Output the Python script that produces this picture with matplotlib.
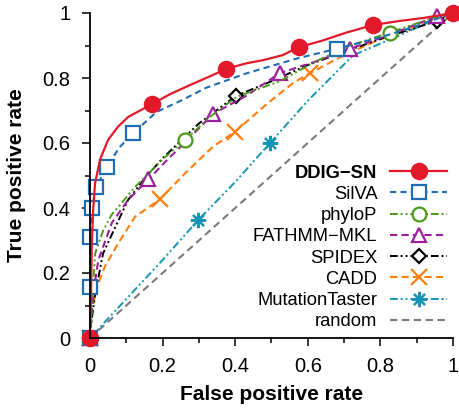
import matplotlib
matplotlib.use("Agg")
import matplotlib.pyplot as plt

plt.rcParams['font.family'] = ['Liberation Sans', 'DejaVu Sans']

# ROC curves: (false positive rate, true positive rate) and marker indices
ddig_fpr = [0, 0.003, 0.005, 0.009, 0.014, 0.028, 0.05, 0.077, 0.105, 0.171, 0.22, 0.275, 0.33, 0.375, 0.43, 0.477, 0.53, 0.576, 0.64, 0.707, 0.78, 0.85, 0.92, 1.0]
ddig_tpr = [0, 0.15, 0.29, 0.40, 0.477, 0.55, 0.61, 0.65, 0.68, 0.72, 0.75, 0.778, 0.805, 0.828, 0.845, 0.855, 0.87, 0.895, 0.915, 0.94, 0.963, 0.975, 0.985, 1.0]
ddig_marks = [0, 9, 13, 17, 20, 23]

silva_fpr = [0, 0.0, 0.0, 0.006, 0.017, 0.047, 0.08, 0.118, 0.184, 0.25, 0.32, 0.43, 0.57, 0.68, 0.8, 0.9, 1.0]
silva_tpr = [0, 0.157, 0.31, 0.40, 0.465, 0.526, 0.585, 0.63, 0.696, 0.73, 0.77, 0.814, 0.86, 0.89, 0.925, 0.96, 1.0]
silva_marks = [0, 1, 2, 3, 4, 5, 7, 13]

phylop_fpr = [0, 0.004, 0.009, 0.014, 0.036, 0.06, 0.087, 0.12, 0.156, 0.2, 0.262, 0.33, 0.404, 0.523, 0.62, 0.707, 0.826, 0.945, 1.0]
phylop_tpr = [0, 0.08, 0.17, 0.26, 0.33, 0.38, 0.415, 0.46, 0.50, 0.55, 0.609, 0.68, 0.742, 0.79, 0.85, 0.896, 0.94, 0.985, 1.0]
phylop_marks = [0, 10, 16]

fathmm_fpr = [0, 0.005, 0.012, 0.023, 0.06, 0.105, 0.161, 0.21, 0.26, 0.34, 0.43, 0.523, 0.62, 0.716, 0.83, 0.955, 1.0]
fathmm_tpr = [0, 0.08, 0.16, 0.24, 0.354, 0.425, 0.488, 0.545, 0.60, 0.69, 0.745, 0.815, 0.85, 0.89, 0.935, 0.99, 1.0]
fathmm_marks = [0, 6, 9, 11, 13, 15]

spidex_fpr = [0, 0.005, 0.015, 0.036, 0.069, 0.105, 0.15, 0.2, 0.3, 0.402, 0.5, 0.6, 0.7, 0.8, 0.955, 1.0]
spidex_tpr = [0, 0.06, 0.14, 0.26, 0.34, 0.425, 0.49, 0.553, 0.66, 0.745, 0.79, 0.84, 0.88, 0.92, 0.975, 1.0]
spidex_marks = [0, 9, 14]

cadd_fpr = [0, 0.005, 0.02, 0.041, 0.077, 0.124, 0.193, 0.262, 0.34, 0.40, 0.487, 0.56, 0.606, 0.7, 0.8, 0.9, 1.0]
cadd_tpr = [0, 0.086, 0.16, 0.22, 0.29, 0.373, 0.427, 0.507, 0.59, 0.635, 0.72, 0.785, 0.815, 0.87, 0.92, 0.96, 1.0]
cadd_marks = [0, 6, 9, 12]

mt_fpr = [0, 0.1, 0.2, 0.298, 0.4, 0.496, 0.6, 0.725, 0.85, 0.927, 1.0]
mt_tpr = [0, 0.12, 0.24, 0.363, 0.48, 0.60, 0.73, 0.87, 0.93, 0.968, 1.0]
mt_marks = [0, 3, 5]

random_fpr = [0, 1]
random_tpr = [0, 1]

tick_values = [0, 0.2, 0.4, 0.6, 0.8, 1]
tick_labels = ["0", "0.2", "0.4", "0.6", "0.8", "1"]

fig = plt.figure(figsize=(4.6, 4.09), dpi=100)
ax = fig.add_axes([90 / 460, 71 / 409, 363 / 460, 325 / 409])

series = [
    # label, fpr, tpr, marks, color, linestyle, marker, ms, lw, filled
    ("random", random_fpr, random_tpr, None, "#7a7a7a", (0, (3.5, 2.2)), None, 0, 1.5, False),
    ("MutationTaster", mt_fpr, mt_tpr, mt_marks, "#1595b5", (0, (4, 1.5, 1, 1.5, 1, 1.5)), (8, 2, 0), 11, 1.4, False),
    ("CADD", cadd_fpr, cadd_tpr, cadd_marks, "#ff7f0e", (0, (3.5, 2)), "x", 11, 1.5, False),
    ("SPIDEX", spidex_fpr, spidex_tpr, spidex_marks, "#000000", (0, (4, 1.5, 1, 1.5, 1, 1.5)), "D", 7.5, 1.4, False),
    ("FATHMM\u2212MKL", fathmm_fpr, fathmm_tpr, fathmm_marks, "#9c1f9c", (0, (3.5, 2)), "^", 10, 1.5, False),
    ("phyloP", phylop_fpr, phylop_tpr, phylop_marks, "#4a9a18", (0, (4, 1.5, 1, 1.5, 1, 1.5)), "o", 10, 1.4, False),
    ("SilVA", silva_fpr, silva_tpr, silva_marks, "#1f6db5", (0, (3, 2)), "s", 9.5, 1.5, False),
    ("DDIG\u2212SN", ddig_fpr, ddig_tpr, ddig_marks, "#e3192a", "-", "o", 11, 1.6, True),
]

handles = {}
for label, xs, ys, marks, color, ls, marker, ms, lw, filled in series:
    kw = dict(color=color, linestyle=ls, linewidth=lw, clip_on=False)
    if marker is not None:
        kw.update(marker=marker, markersize=ms, markevery=marks,
                  markeredgecolor=color, markeredgewidth=1.6,
                  markerfacecolor=color if filled else "white")
        if marker in ("x", (8, 2, 0)):
            kw.pop("markerfacecolor")
    line, = ax.plot(xs, ys, **kw)
    handles[label] = line

order = ["DDIG\u2212SN", "SilVA", "phyloP", "FATHMM\u2212MKL", "SPIDEX", "CADD", "MutationTaster", "random"]
leg = ax.legend([handles[k] for k in order], order, loc="lower right",
                bbox_to_anchor=(460 / 460, 66 / 409), bbox_transform=fig.transFigure,
                frameon=False, markerfirst=False, numpoints=1, fontsize=13.2,
                handlelength=3.1, handletextpad=0.7, labelspacing=0.23, borderpad=0.2)
for t in leg.get_texts():
    t.set_ha("right")
leg.get_texts()[0].set_fontweight("bold")
leg._legend_box.align = "right"
for vp in leg._legend_box.get_children()[1].get_children():
    vp.align = "right"

ax.set_xlim(0, 1)
ax.set_ylim(0, 1)
ax.spines["top"].set_visible(False)
ax.spines["right"].set_visible(False)
ax.spines["left"].set_linewidth(1.3)
ax.spines["bottom"].set_linewidth(1.3)
ax.set_xticks(tick_values)
ax.set_xticklabels(tick_labels)
ax.set_yticks(tick_values)
ax.set_yticklabels(tick_labels)
ax.set_xticks([0.1, 0.3, 0.5, 0.7, 0.9], minor=True)
ax.set_yticks([0.1, 0.3, 0.5, 0.7, 0.9], minor=True)
ax.tick_params(axis="both", which="major", direction="out", length=6, width=1.1,
               labelsize=14.5, pad=8)
ax.tick_params(axis="both", which="minor", direction="out", length=3.5, width=1.1)
ax.set_xlabel("False positive rate", fontsize=15, fontweight="bold", labelpad=6)
ax.set_ylabel("True positive rate", fontsize=15, fontweight="bold", labelpad=12)

fig.savefig("out.png", dpi=100)
